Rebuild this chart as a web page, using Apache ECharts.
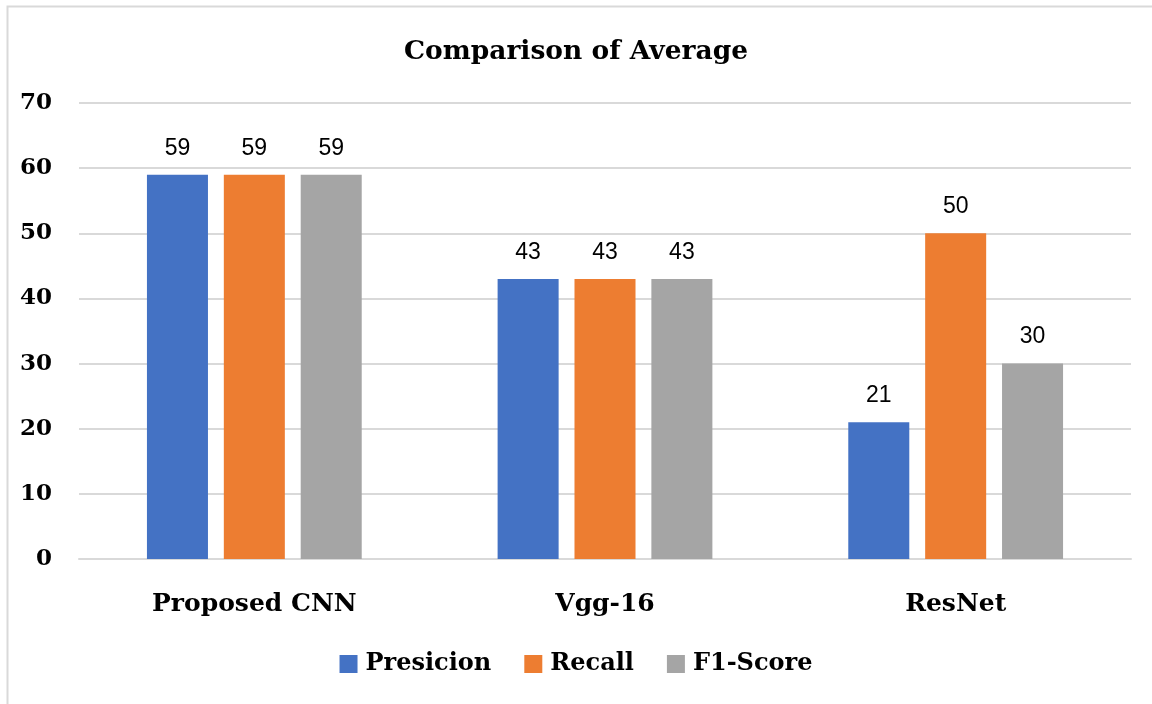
<!DOCTYPE html>
<html>
<head>
<meta charset="utf-8">
<script src="https://cdn.jsdelivr.net/npm/echarts@6/dist/echarts.min.js"></script>
<style>
  html, body { margin: 0; padding: 0; background: #fff; }
  #main { width: 1152px; height: 704px; }
</style>
</head>
<body>
<div id="main"></div>
<script type="text/javascript">
var categories = ['Proposed CNN', 'Vgg-16', 'ResNet'];
var precision = [59, 43, 21];
var recall = [59, 43, 50];
var f1Score = [59, 43, 30];
var yTicks = [0, 10, 20, 30, 40, 50, 60, 70];

var serif = '"DejaVu Serif", "Liberation Serif", serif';
var chart = echarts.init(document.getElementById('main'));

function bar(name, data, color) {
    return {
        name: name,
        type: 'bar',
        data: data,
        barWidth: '17.4%',
        barGap: '26%',
        itemStyle: { color: color },
        label: {
            show: true,
            position: 'top',
            distance: 15,
            color: '#000',
            fontFamily: '"Liberation Sans", Arial, sans-serif',
            fontSize: 23
        }
    };
}

var option = {
    backgroundColor: '#fff',
    animation: false,
    graphic: [{
        type: 'rect',
        shape: { x: 7.5, y: 6.5, width: 1160, height: 720 },
        style: { fill: 'none', stroke: '#d9d9d9', lineWidth: 2 },
        silent: true
    }],
    title: {
        text: 'Comparison of Average',
        left: 'center',
        top: 34,
        textStyle: { fontFamily: serif, fontWeight: 'bold', fontSize: 26.5, color: '#000' }
    },
    legend: {
        bottom: 23,
        left: 'center',
        itemWidth: 18,
        itemHeight: 18,
        itemGap: 33,
        icon: 'rect',
        textStyle: { fontFamily: serif, fontWeight: 'bold', fontSize: 24, color: '#000', padding: [0, 0, 0, 3] },
        data: ['Presicion', 'Recall', 'F1-Score']
    },
    grid: { left: 79, right: 21, top: 103, bottom: 145, containLabel: false },
    xAxis: {
        type: 'category',
        data: categories,
        axisTick: { show: false },
        axisLine: { lineStyle: { color: '#d9d9d9', width: 2 } },
        axisLabel: { margin: 33, fontFamily: serif, fontWeight: 'bold', fontSize: 25, color: '#000' }
    },
    yAxis: {
        type: 'value',
        min: yTicks[0],
        max: yTicks[yTicks.length - 1],
        interval: 10,
        axisLine: { show: false },
        axisTick: { show: false },
        splitLine: { lineStyle: { color: '#d9d9d9', width: 2 } },
        axisLabel: { margin: 27, fontFamily: serif, fontWeight: 'bold', fontSize: 23, color: '#000' }
    },
    series: [
        bar('Presicion', precision, '#4472c4'),
        bar('Recall', recall, '#ed7d31'),
        bar('F1-Score', f1Score, '#a5a5a5')
    ]
};
chart.setOption(option);
</script>
</body>
</html>
